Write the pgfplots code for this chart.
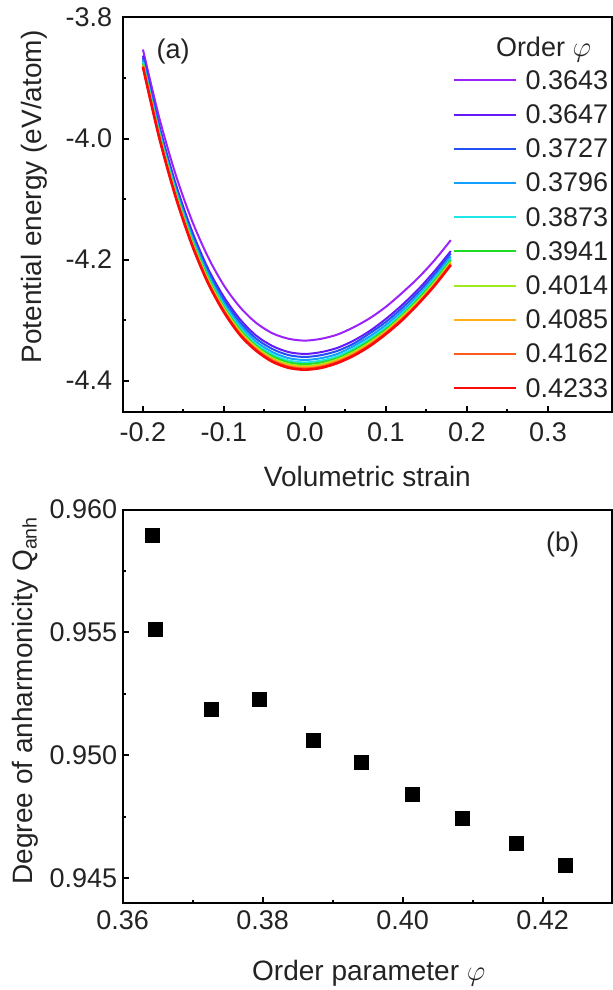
\documentclass[border=0pt]{standalone}
\usepackage{fontspec}
\setmainfont{Liberation Sans}
\usepackage{pgfplots}
\usepackage{pgfplotstable}
\pgfplotsset{compat=1.18}

\definecolor{c1}{RGB}{155,35,250}
\definecolor{c2}{RGB}{100,25,250}
\definecolor{c3}{RGB}{35,80,245}
\definecolor{c4}{RGB}{20,160,255}
\definecolor{c5}{RGB}{30,230,230}
\definecolor{c6}{RGB}{30,220,40}
\definecolor{c7}{RGB}{160,235,30}
\definecolor{c8}{RGB}{255,175,25}
\definecolor{c9}{RGB}{255,90,30}
\definecolor{c10}{RGB}{250,10,10}
\definecolor{txt}{RGB}{35,35,35}

% potential energy vs volumetric strain, one column per order parameter
\pgfplotstableread{
x     c1     c2     c3     c4     c5     c6     c7     c8     c9     c10
-0.20 -3.853 -3.863 -3.867 -3.871 -3.874 -3.876 -3.878 -3.879 -3.880 -3.882
-0.18 -3.965 -3.978 -3.982 -3.986 -3.989 -3.992 -3.994 -3.995 -3.997 -3.998
-0.16 -4.058 -4.073 -4.078 -4.082 -4.085 -4.088 -4.090 -4.092 -4.093 -4.095
-0.14 -4.134 -4.151 -4.156 -4.160 -4.164 -4.166 -4.169 -4.171 -4.172 -4.174
-0.12 -4.195 -4.214 -4.218 -4.223 -4.227 -4.229 -4.232 -4.234 -4.236 -4.238
-0.10 -4.243 -4.262 -4.267 -4.272 -4.276 -4.279 -4.281 -4.283 -4.285 -4.287
-0.08 -4.279 -4.299 -4.304 -4.309 -4.313 -4.316 -4.319 -4.321 -4.323 -4.325
-0.06 -4.305 -4.326 -4.331 -4.336 -4.340 -4.343 -4.345 -4.347 -4.349 -4.351
-0.04 -4.322 -4.343 -4.348 -4.353 -4.357 -4.360 -4.363 -4.365 -4.367 -4.369
-0.02 -4.331 -4.353 -4.358 -4.363 -4.367 -4.370 -4.373 -4.375 -4.377 -4.379
 0.00 -4.334 -4.356 -4.361 -4.366 -4.370 -4.373 -4.376 -4.378 -4.380 -4.382
 0.02 -4.331 -4.353 -4.358 -4.363 -4.367 -4.370 -4.373 -4.375 -4.377 -4.379
 0.04 -4.324 -4.346 -4.351 -4.356 -4.360 -4.363 -4.365 -4.367 -4.369 -4.371
 0.06 -4.312 -4.334 -4.339 -4.343 -4.347 -4.350 -4.353 -4.355 -4.357 -4.359
 0.08 -4.297 -4.318 -4.322 -4.327 -4.331 -4.334 -4.337 -4.339 -4.341 -4.343
 0.10 -4.278 -4.298 -4.303 -4.308 -4.312 -4.315 -4.318 -4.319 -4.321 -4.323
 0.12 -4.255 -4.275 -4.280 -4.285 -4.289 -4.292 -4.294 -4.296 -4.298 -4.300
 0.14 -4.230 -4.249 -4.254 -4.259 -4.262 -4.265 -4.268 -4.270 -4.272 -4.273
 0.16 -4.201 -4.219 -4.224 -4.229 -4.232 -4.235 -4.238 -4.240 -4.242 -4.243
 0.18 -4.168 -4.186 -4.190 -4.195 -4.199 -4.201 -4.204 -4.206 -4.208 -4.209
}\energy

% degree of anharmonicity vs order parameter
\pgfplotstableread{
phi    q
0.3643 0.95896
0.3647 0.95512
0.3727 0.95187
0.3796 0.95227
0.3873 0.95061
0.3941 0.94971
0.4014 0.94842
0.4085 0.94743
0.4162 0.94642
0.4233 0.94550
}\anharm

\pgfplotsset{
  panel/.style={
    scale only axis,
    width=244.65pt,
    axis line style={line width=1pt, black},
    every tick/.style={line width=1pt, black},
    major tick length=3pt,
    minor tick length=1.75pt,
    tick align=inside,
    xtick pos=left, ytick pos=left,
    minor x tick num=1, minor y tick num=1,
    /pgf/number format/assume math mode=true,
    tick label style={font=\fontsize{13.5}{16}\selectfont, text=txt},
    label style={font=\fontsize{14}{17}\selectfont, text=txt},
    xlabel style={anchor=base},
    ylabel style={anchor=base},
  },
}

\begin{document}
\begin{tikzpicture}
\useasboundingbox (-61.35pt,8.75pt) rectangle (245.15pt,-486.25pt);

\begin{axis}[
  panel,
  at={(0pt,0pt)}, anchor=north west,
  height=197.25pt,
  xmin=-0.225, xmax=0.379,
  ymin=-4.452, ymax=-3.8,
  xtick={-0.2,-0.1,0,0.1,0.2,0.3},
  ytick={-4.4,-4.2,-4.0,-3.8},
  xticklabel style={/pgf/number format/.cd, fixed, fixed zerofill, precision=1, /tikz/.cd, yshift=-1.9pt},
  yticklabel style={/pgf/number format/.cd, fixed, fixed zerofill, precision=1, /tikz/.cd, xshift=-1.7pt},
  xlabel={Volumetric strain},
  ylabel={Potential energy (eV/atom)},
  xlabel style={at={(axis description cs:0.5,-0.1876)}},
  ylabel style={at={(axis description cs:-0.1655,0.545)}},
  legend cell align=left,
  legend image code/.code={\draw[#1] (0pt,0pt) -- (31pt,0pt);},
  legend style={draw=none, fill=none, inner sep=0pt, outer sep=0pt,
    at={(rel axis cs:0.992,0.8636)}, anchor=north east,
    row sep=8.1pt, column sep=4pt,
    font=\fontsize{13.5}{16}\selectfont, text=txt,
    nodes={inner sep=0pt, text height=9pt, text depth=0pt}},
]
\addplot[c1, line width=1pt, smooth] table[x=x, y=c1] {\energy};
\addlegendentry{0.3643}
\addplot[c2, line width=1pt, smooth] table[x=x, y=c2] {\energy};
\addlegendentry{0.3647}
\addplot[c3, line width=1pt, smooth] table[x=x, y=c3] {\energy};
\addlegendentry{0.3727}
\addplot[c4, line width=1pt, smooth] table[x=x, y=c4] {\energy};
\addlegendentry{0.3796}
\addplot[c5, line width=1pt, smooth] table[x=x, y=c5] {\energy};
\addlegendentry{0.3873}
\addplot[c6, line width=1pt, smooth] table[x=x, y=c6] {\energy};
\addlegendentry{0.3941}
\addplot[c7, line width=1pt, smooth] table[x=x, y=c7] {\energy};
\addlegendentry{0.4014}
\addplot[c8, line width=1pt, smooth] table[x=x, y=c8] {\energy};
\addlegendentry{0.4085}
\addplot[c9, line width=1pt, smooth] table[x=x, y=c9] {\energy};
\addlegendentry{0.4162}
\addplot[c10, line width=1.3pt, smooth] table[x=x, y=c10] {\energy};
\addlegendentry{0.4233}
\node[font=\fontsize{13.5}{16}\selectfont, text=txt] at (rel axis cs:0.86,0.92) {Order $\varphi$};
\node[font=\fontsize{13.5}{16}\selectfont, text=txt] at (rel axis cs:0.103,0.914) {(a)};
\end{axis}

\begin{axis}[
  panel,
  at={(0pt,-246pt)}, anchor=north west,
  height=196.75pt,
  xmin=0.36, xmax=0.4299,
  ymin=0.94398, ymax=0.960,
  xtick={0.36,0.38,0.40,0.42},
  ytick={0.945,0.950,0.955,0.960},
  xticklabel style={/pgf/number format/.cd, fixed, fixed zerofill, precision=2, /tikz/.cd, yshift=-0.4pt},
  yticklabel style={/pgf/number format/.cd, fixed, fixed zerofill, precision=3, /tikz/.cd, xshift=0.75pt},
  scaled y ticks=false, scaled x ticks=false,
  xlabel={Order parameter $\varphi$},
  ylabel={Degree of anharmonicity Q\textsubscript{anh}},
  xlabel style={at={(axis description cs:0.503,-0.196)}},
  ylabel style={at={(axis description cs:-0.185,0.515)}},
]
\addplot[only marks, mark=square*, mark size=3.5pt, black] table[x=phi, y=q] {\anharm};
\node[font=\fontsize{13.5}{16}\selectfont, text=txt] at (rel axis cs:0.899,0.91) {(b)};
\end{axis}
\end{tikzpicture}
\end{document}
